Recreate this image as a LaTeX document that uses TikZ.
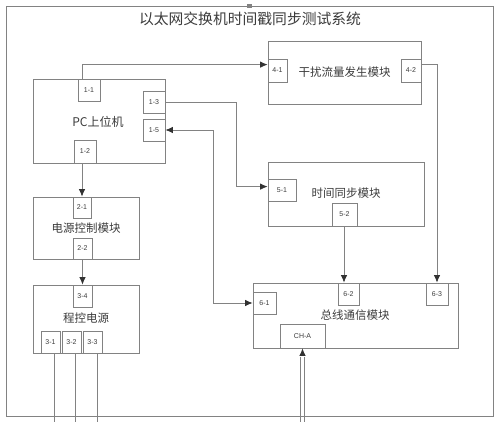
\documentclass[tikz,border=0pt]{standalone}
\usepackage{fontspec}
\newfontfamily\cjk{Noto Sans CJK SC}
\setmainfont{Liberation Sans}
\usetikzlibrary{arrows.meta}
\definecolor{ln}{RGB}{130,130,130}
\definecolor{tx}{RGB}{60,60,60}
\definecolor{ah}{RGB}{50,50,50}
\newcommand{\mkbox}[7]{\node[#7, minimum width={#4-#2}, minimum height={#5-#3}] (#1) at ({(#2+#4)/2},{(#3+#5)/2}) {#6};}
\begin{document}
\begin{tikzpicture}[x=1pt,y=-1pt,
  bigbox/.style={draw=ln, line width=0.8pt, fill=white, inner sep=0pt, text=tx, font=\cjk\fontsize{11.5}{12}\selectfont},
  port/.style={draw=ln, line width=0.8pt, fill=white, inner sep=0pt, text=tx, font=\fontsize{7}{8}\selectfont},
  wire/.style={draw=ln, line width=0.8pt},
  arr/.style={wire, -{Latex[length=7.5pt,width=6.5pt,color=ah]}},
  darr/.style={wire, {Latex[length=7.5pt,width=6.5pt,color=ah]}-{Latex[length=7.5pt,width=6.5pt,color=ah]}}]
\useasboundingbox (0,0) rectangle (500,422);
\fill[white] (0,0) rectangle (500,422);
% frame
\node[draw=ln, line width=0.9pt, minimum width=487, minimum height=410, inner sep=0pt] (frame) at (249.5,211) {};
\fill[ln] (247,4.5) rectangle (252,8);
\node[text=tx, font=\cjk\fontsize{14.8}{15}\selectfont] (title) at (250,19) {以太网交换机时间戳同步测试系统};
% main boxes
\mkbox{pc}{33}{79}{165}{163}{}{bigbox}
\node[text=tx, font=\cjk\fontsize{12}{13}\selectfont] (pct) at (98,122) {PC上位机};
\mkbox{pwr}{33}{197}{139}{259}{电源控制模块}{bigbox}
\mkbox{prog}{33}{285}{139}{353}{}{bigbox}
\node[text=tx, font=\cjk\fontsize{11.5}{12}\selectfont] (progt) at (86,318) {程控电源};
\mkbox{intf}{268}{41}{421}{104}{干扰流量发生模块}{bigbox}
\mkbox{sync}{268}{162}{424}{226}{}{bigbox}
\node[text=tx, font=\cjk\fontsize{11.5}{12}\selectfont] (synct) at (346,193) {时间同步模块};
\mkbox{bus}{253}{283}{458}{348}{}{bigbox}
\node[text=tx, font=\cjk\fontsize{11.5}{12}\selectfont] (bust) at (355,315) {总线通信模块};
% ports
\mkbox{p11}{78}{79}{100}{101}{1-1}{port}
\mkbox{p13}{143}{91}{165}{113}{1-3}{port}
\mkbox{p15}{143}{119}{165}{141}{1-5}{port}
\mkbox{p12}{74}{140}{96}{163}{1-2}{port}
\mkbox{p21}{73}{197}{91}{218}{2-1}{port}
\mkbox{p22}{73}{238}{92}{259}{2-2}{port}
\mkbox{p34}{73}{285}{92}{307}{3-4}{port}
\mkbox{p31}{41}{331}{60}{353}{3-1}{port}
\mkbox{p32}{62}{331}{81}{353}{3-2}{port}
\mkbox{p33}{83}{331}{102}{353}{3-3}{port}
\mkbox{p41}{268}{59}{287}{82}{4-1}{port}
\mkbox{p42}{401}{59}{421}{82}{4-2}{port}
\mkbox{p51}{268}{179}{296}{201}{5-1}{port}
\mkbox{p52}{332}{203}{357}{226}{5-2}{port}
\mkbox{p61}{253}{292}{276}{314}{6-1}{port}
\mkbox{p62}{338}{283}{359}{305}{6-2}{port}
\mkbox{p63}{426}{283}{448}{305}{6-3}{port}
\mkbox{cha}{280}{324}{325}{348}{CH-A}{port}
% bend coordinates
\coordinate (b13) at (236,0);
\coordinate (b15) at (213,0);
\coordinate (b42) at (437,0);
\coordinate (e31) at (54,422);
\coordinate (e32) at (75,422);
\coordinate (e33) at (97,422);
\coordinate (ech1) at (300.5,422);
\coordinate (ech2) at (304,422);
\coordinate (chs) at (302.5,357);
% connectors
\draw[arr] ([xshift=-7pt]p11.north) |- ([yshift=-6pt]p41.north west);
\draw[wire] ([yshift=-6pt]p42.north east) -| (b42 |- p42.south);
\draw[arr] (b42 |- p42.south) -- (p63.north);
\draw[arr] (p13.east) -- (p13.east -| b13) |- ([yshift=-8pt]p51.north west);
\draw[darr] (p15.east) -- (p15.east -| b15) |- (p61.west);
\draw[arr] (p52.south -| 344,0) -- (p62.north -| 344,0);
\draw[arr] (p21.north |- p12.south) -- (p21.north);
\draw[arr] (p34.north |- p22.south) -- (p34.north);
\draw[wire] (e31 |- p31.south) -- (e31);
\draw[wire] (e32 |- p32.south) -- (e32);
\draw[wire] (e33 |- p33.south) -- (e33);
\draw[wire] (ech1) -- (ech1 |- chs);
\draw[wire] (ech2) -- (ech2 |- chs);
\draw[arr] ([yshift=3pt]chs) -- (chs |- cha.south);
\end{tikzpicture}
\end{document}
